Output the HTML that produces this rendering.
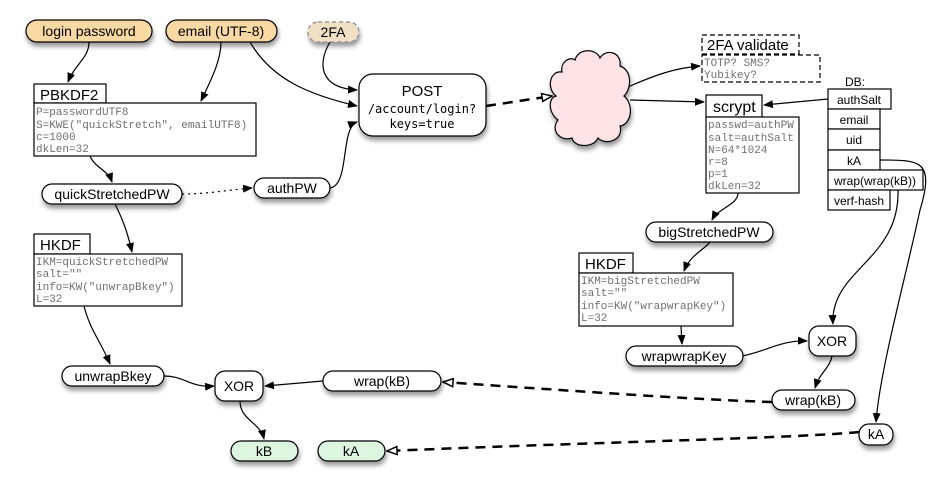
<!DOCTYPE html>
<html><head><meta charset="utf-8"><style>
html,body{margin:0;padding:0;background:#fff;}
svg{display:block;}
.s{font-family:"Liberation Sans",sans-serif;fill:#000;}
.m{font-family:"Liberation Mono",monospace;fill:#707070;font-size:11px;}
.b{fill:#fff;stroke:#000;stroke-width:1.2;}
.e{fill:none;stroke:#000;stroke-width:1.2;}
</style></head><body>
<svg width="950" height="491" viewBox="0 0 950 491" xmlns="http://www.w3.org/2000/svg">
<defs>
<marker id="a" markerWidth="10" markerHeight="8" refX="9" refY="4" orient="auto" markerUnits="userSpaceOnUse"><path d="M0,0 L10,4 L0,8 z" fill="#000"/></marker>
<marker id="o" markerWidth="12" markerHeight="10" refX="11" refY="5" orient="auto" markerUnits="userSpaceOnUse"><path d="M1,1 L11,5 L1,9 z" fill="#fff" stroke="#000" stroke-width="1.5"/></marker>
<filter id="sh" x="-20%" y="-20%" width="150%" height="170%"><feDropShadow dx="1" dy="4" stdDeviation="2.5" flood-color="#000" flood-opacity="0.4"/></filter>
</defs>

<!-- edges -->
<path class="e" d="M89,42 C89,58 75,64 68,82" marker-end="url(#a)"/>
<path class="e" d="M221,42 C221,60 212,78 201,101" marker-end="url(#a)"/>
<path class="e" d="M250,42 C272,80 310,95 357,106" marker-end="url(#a)"/>
<path class="e" d="M330,42 C318,62 318,88 357,90" marker-end="url(#a)"/>
<path class="e" d="M330,188 C350,185 340,128 357,122" marker-end="url(#a)"/>
<path class="e" d="M90,156 C95,168 108,170 112,182" marker-end="url(#a)"/>
<path class="e" d="M182,194 C210,194 225,190 252,188" stroke-dasharray="2,4" marker-end="url(#a)"/>
<path class="e" d="M115,204 C122,218 127,230 132,252" marker-end="url(#a)"/>
<path class="e" d="M84,306 C90,330 100,340 110,364" marker-end="url(#a)"/>
<path class="e" d="M164,376 C185,376 190,388 214,386" marker-end="url(#a)"/>
<path class="e" d="M323,381 L265,386" marker-end="url(#a)"/>
<path class="e" d="M240,401 C240,420 260,422 264,439" marker-end="url(#a)"/>
<path class="e" d="M486,106 L552,96" style="stroke-width:2.5;stroke-dasharray:10,7" marker-end="url(#o)"/>
<path class="e" d="M628,87 C655,75 675,68 700,66" marker-end="url(#a)"/>
<path class="e" d="M630,100 L704,102" marker-end="url(#a)"/>
<path class="e" d="M828,99 L764,105" marker-end="url(#a)"/>
<path class="e" d="M738,193 C738,205 718,208 712,220" marker-end="url(#a)"/>
<path class="e" d="M710,242 C704,250 690,255 684,271" marker-end="url(#a)"/>
<path class="e" d="M681,326 L682,344" marker-end="url(#a)"/>
<path class="e" d="M742,356 C765,352 780,340 807,341" marker-end="url(#a)"/>
<path class="e" d="M832,356 C830,368 820,372 815,388" marker-end="url(#a)"/>
<path class="e" d="M898,190 C900,260 830,270 833,324" marker-end="url(#a)"/>
<path class="e" d="M880,160 C920,160 935,160 920,210 C905,280 880,370 876,422" marker-end="url(#a)"/>
<path class="e" d="M772,402 C700,400 560,390 443,382" style="stroke-width:2.5;stroke-dasharray:10,7" marker-end="url(#o)"/>
<path class="e" d="M859,432 C800,438 600,442 387,451" style="stroke-width:2.5;stroke-dasharray:10,7" marker-end="url(#o)"/>

<!-- top inputs -->
<g filter="url(#sh)">
<rect x="26" y="20" width="126" height="22" rx="11" fill="#f9d9a3" stroke="#000" stroke-width="1.2"/>
<rect x="166" y="20" width="111" height="22" rx="11" fill="#f9d9a3" stroke="#000" stroke-width="1.2"/>
<rect x="308" y="22" width="51" height="20" rx="10" fill="#efe0c6" stroke="#888" stroke-width="1.2" stroke-dasharray="4,3"/>
</g>
<text class="s" x="89" y="36" font-size="14" text-anchor="middle">login password</text>
<text class="s" x="221" y="36" font-size="14" text-anchor="middle">email (UTF-8)</text>
<text class="s" x="333" y="37" font-size="14" text-anchor="middle">2FA</text>

<!-- PBKDF2 -->
<rect class="b" x="34" y="84" width="72" height="19"/>
<text class="s" x="40" y="100" font-size="15">PBKDF2</text>
<rect class="b" x="34" y="103" width="222" height="53"/>
<text class="m" x="36" y="115">P=passwordUTF8</text>
<text class="m" x="36" y="128" font-size="11.5">S=KWE("quickStretch", emailUTF8)</text>
<text class="m" x="36" y="140">c=1000</text>
<text class="m" x="36" y="152">dkLen=32</text>

<!-- POST -->
<rect class="b" x="359" y="74" width="127" height="62" rx="14" filter="url(#sh)"/>
<text class="s" x="422" y="96" font-size="15" text-anchor="middle">POST</text>
<text class="s" x="422" y="113" font-size="12" text-anchor="middle" style="font-family:'DejaVu Sans Mono',monospace">/account/login?</text>
<text class="s" x="422" y="128" font-size="12" text-anchor="middle" style="font-family:'DejaVu Sans Mono',monospace">keys=true</text>

<!-- pills -->
<g filter="url(#sh)">
<rect class="b" x="42" y="184" width="140" height="20" rx="10"/>
<rect class="b" x="254" y="178" width="76" height="20" rx="10"/>
<rect class="b" x="62" y="366" width="102" height="20" rx="10"/>
<rect class="b" x="215" y="371" width="48" height="30" rx="10"/>
<rect class="b" x="323" y="371" width="118" height="20" rx="10"/>
<rect x="231" y="441" width="67" height="20" rx="10" fill="#dcf6e0" stroke="#000" stroke-width="1.2"/>
<rect x="318" y="441" width="67" height="20" rx="10" fill="#dcf6e0" stroke="#000" stroke-width="1.2"/>
<rect class="b" x="646" y="222" width="127" height="20" rx="10"/>
<rect class="b" x="626" y="346" width="117" height="20" rx="10"/>
<rect class="b" x="809" y="326" width="47" height="30" rx="10"/>
<rect class="b" x="772" y="390" width="83" height="20" rx="10"/>
<rect class="b" x="859" y="424" width="34" height="21" rx="10"/>
</g>
<text class="s" x="112" y="199" font-size="14" text-anchor="middle">quickStretchedPW</text>
<text class="s" x="292" y="193" font-size="14" text-anchor="middle">authPW</text>
<text class="s" x="113" y="381" font-size="14" text-anchor="middle">unwrapBkey</text>
<text class="s" x="239" y="391" font-size="14" text-anchor="middle">XOR</text>
<text class="s" x="382" y="386" font-size="14" text-anchor="middle">wrap(kB)</text>
<text class="s" x="264" y="456" font-size="14" text-anchor="middle">kB</text>
<text class="s" x="351" y="456" font-size="14" text-anchor="middle">kA</text>
<text class="s" x="709" y="237" font-size="14" text-anchor="middle">bigStretchedPW</text>
<text class="s" x="684" y="361" font-size="14" text-anchor="middle">wrapwrapKey</text>
<text class="s" x="832" y="346" font-size="14" text-anchor="middle">XOR</text>
<text class="s" x="813" y="405" font-size="14" text-anchor="middle">wrap(kB)</text>
<text class="s" x="876" y="439" font-size="14" text-anchor="middle">kA</text>

<!-- HKDF left -->
<rect class="b" x="34" y="234" width="56" height="20"/>
<text class="s" x="40" y="250" font-size="15">HKDF</text>
<rect class="b" x="34" y="254" width="148" height="52"/>
<text class="m" x="36" y="265">IKM=quickStretchedPW</text>
<text class="m" x="36" y="277">salt=""</text>
<text class="m" x="36" y="290">info=KW("unwrapBkey")</text>
<text class="m" x="36" y="302">L=32</text>

<!-- cloud -->
<path filter="url(#sh)" d="M575,60 C578,48 596,48 600,58 C606,48 622,52 620,66 C632,70 632,88 624,96 C634,104 632,124 620,126 C624,140 606,146 598,138 C594,148 574,148 572,138 C560,142 550,130 558,120 C548,112 548,98 556,96 C546,88 550,70 562,72 C560,62 570,56 575,60 z" fill="#fde3e5" stroke="#000" stroke-width="1.2"/>

<!-- 2FA validate -->
<rect x="702" y="35" width="97" height="19" fill="#fff" stroke="#000" stroke-width="1.2" stroke-dasharray="5,3"/>
<text class="s" x="707" y="50" font-size="15">2FA validate</text>
<rect x="702" y="55" width="118" height="27" fill="#fff" stroke="#000" stroke-width="1.2" stroke-dasharray="5,3"/>
<text class="m" x="704" y="66">TOTP? SMS?</text>
<text class="m" x="704" y="78">Yubikey?</text>

<!-- scrypt -->
<rect class="b" x="706" y="95" width="56" height="22"/>
<text class="s" x="713" y="112" font-size="16">scrypt</text>
<rect class="b" x="706" y="117" width="93" height="76"/>
<text class="m" x="708" y="128">passwd=authPW</text>
<text class="m" x="708" y="141">salt=authSalt</text>
<text class="m" x="708" y="153">N=64*1024</text>
<text class="m" x="708" y="165">r=8</text>
<text class="m" x="708" y="177">p=1</text>
<text class="m" x="708" y="189">dkLen=32</text>

<!-- DB -->
<text class="s" x="845" y="86" font-size="12">DB:</text>
<rect class="b" x="828" y="89" width="63" height="20"/>
<rect class="b" x="828" y="109" width="52" height="20"/>
<rect class="b" x="828" y="129" width="52" height="21"/>
<rect class="b" x="828" y="150" width="52" height="20"/>
<rect class="b" x="828" y="170" width="95" height="20"/>
<rect class="b" x="828" y="190" width="62" height="20"/>
<text class="s" x="859" y="104" font-size="12" text-anchor="middle">authSalt</text>
<text class="s" x="854" y="124" font-size="12" text-anchor="middle">email</text>
<text class="s" x="854" y="144" font-size="12" text-anchor="middle">uid</text>
<text class="s" x="854" y="165" font-size="12" text-anchor="middle">kA</text>
<text class="s" x="875" y="185" font-size="12" text-anchor="middle">wrap(wrap(kB))</text>
<text class="s" x="859" y="205" font-size="12" text-anchor="middle">verf-hash</text>

<!-- HKDF right -->
<rect class="b" x="579" y="253" width="54" height="20"/>
<text class="s" x="585" y="269" font-size="15">HKDF</text>
<rect class="b" x="579" y="273" width="154" height="53"/>
<text class="m" x="581" y="284">IKM=bigStretchedPW</text>
<text class="m" x="581" y="296">salt=""</text>
<text class="m" x="581" y="309">info=KW("wrapwrapKey")</text>
<text class="m" x="581" y="321">L=32</text>
</svg>
</body></html>
